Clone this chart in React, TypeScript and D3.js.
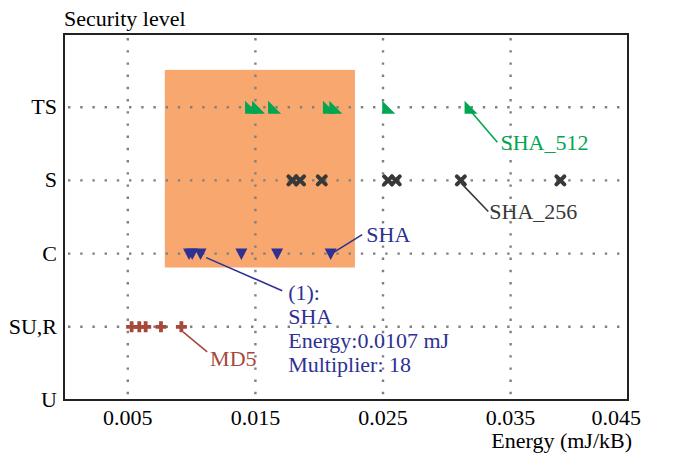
import { scaleLinear } from "d3";

const width = 676;
const height = 458;

// security levels, bottom to top
const levels = ["U", "SU,R", "C", "S", "TS"];
const xTicks = [0.005, 0.015, 0.025, 0.035];
const xTickLabels = ["0.005", "0.015", "0.025", "0.035", "0.045"];

// energy values (mJ/kB) per algorithm
const sha512 = [0.0147, 0.01525, 0.0165, 0.0208, 0.0213, 0.02545, 0.0319];
const sha256 = [0.0179, 0.0185, 0.0202, 0.0254, 0.026, 0.0311, 0.0389];
const sha = [0.0098, 0.01005, 0.0107, 0.0139, 0.0167, 0.0209];
const md5 = [0.0053, 0.0059, 0.0064, 0.0076, 0.0092];

// highlighted region [x0, x1], [y0, y1]
const boxX = [0.0079, 0.0228];
const boxY = [1.81, 4.51];

const green = "#00a651";
const dark = "#383838";
const blue = "#2e3192";
const brown = "#a5493b";

// annotation: from point, line end, text position (data space)
const annotations = [
  { from: [0.032, 3.92], to: [0.03396, 3.52], text: [0.0342, 3.41], lines: ["SHA_512"], color: green },
  { from: [0.03114, 2.96], to: [0.03325, 2.575], text: [0.03333, 2.466], lines: ["SHA_256"], color: dark },
  { from: [0.0211, 2.014], to: [0.02337, 2.26], text: [0.02369, 2.164], lines: ["SHA"], color: blue },
  {
    from: [0.01114, 1.945],
    to: [0.0171, 1.493],
    text: [0.01757, 1.37],
    lines: ["(1):", "SHA", "Energy:0.0107 mJ", "Multiplier: 18"],
    color: blue,
  },
  { from: [0.00933, 0.93], to: [0.01122, 0.658], text: [0.01145, 0.466], lines: ["MD5"], color: brown },
];

const left = 64;
const right = 628;
const top = 34;
const bottom = 400;

const App = () => {
  const x = scaleLinear().domain([0, 0.0442]).range([left, right]);
  const y = scaleLinear().domain([0, 5]).range([bottom, top]);
  const font = "'Liberation Serif', 'Times New Roman', serif";

  return (
    <svg
      width={width}
      height={height}
      style={{ position: "absolute", left: 0, top: 0 }}
      fontFamily={font}
    >
      <rect width={width} height={height} fill="#fff" />
      <rect
        x={x(boxX[0])}
        y={y(boxY[1])}
        width={x(boxX[1]) - x(boxX[0])}
        height={y(boxY[0]) - y(boxY[1])}
        fill="#f8a86f"
      />
      {/* dotted grid */}
      {xTicks.map((t) => (
        <line
          key={"gx" + t}
          x1={x(t)}
          x2={x(t)}
          y1={top + 4}
          y2={bottom}
          stroke="#808080"
          strokeWidth={2.4}
          strokeDasharray="2.4 9.8"
        />
      ))}
      {levels.slice(1).map((l, i) => (
        <line
          key={"gy" + l}
          x1={left + 4}
          x2={right}
          y1={y(i + 1)}
          y2={y(i + 1)}
          stroke="#808080"
          strokeWidth={2.4}
          strokeDasharray="2.4 9.8"
        />
      ))}
      <rect
        x={left}
        y={top}
        width={right - left}
        height={bottom - top}
        fill="none"
        stroke="#222"
        strokeWidth={2}
      />
      {/* y labels */}
      {levels.map((l, i) => (
        <text key={l} x={left - 7} y={y(i) + 7} textAnchor="end" fontSize={22}>
          {l}
        </text>
      ))}
      {xTickLabels.map((l, i) => (
        <text
          key={l}
          x={i < xTicks.length ? x(xTicks[i]) : right + 13}
          y={425}
          textAnchor={i < xTicks.length ? "middle" : "end"}
          fontSize={22}
        >
          {l}
        </text>
      ))}
      <text x={left} y={26} fontSize={22}>
        Security level
      </text>
      <text x={right + 4} y={448} fontSize={22} textAnchor="end">
        Energy (mJ/kB)
      </text>

      {/* annotation lines */}
      {annotations.map((a, i) => (
        <line
          key={"al" + i}
          x1={x(a.from[0])}
          y1={y(a.from[1])}
          x2={x(a.to[0])}
          y2={y(a.to[1])}
          stroke={a.color}
          strokeWidth={1.6}
        />
      ))}

      {/* markers */}
      {md5.map((v, i) => (
        <path
          key={"md" + i}
          transform={`translate(${x(v)},${y(1)})`}
          d="M-5.5,0H5.5M0,-5.5V5.5"
          stroke={brown}
          strokeWidth={3.8}
        />
      ))}
      {sha.map((v, i) => (
        <path key={"sh" + i} transform={`translate(${x(v)},${y(2)})`} d="M-6,-5L6,-5L0,6.5Z" fill={blue} />
      ))}
      {sha256.map((v, i) => (
        <path
          key={"s2" + i}
          transform={`translate(${x(v)},${y(3)})`}
          d="M-4,-4L4,4M4,-4L-4,4"
          stroke={dark}
          strokeWidth={4}
          strokeLinecap="round"
        />
      ))}
      {sha512.map((v, i) => (
        <path
          key={"s5" + i}
          transform={`translate(${x(v)},${y(4)})`}
          d="M-6.5,-6.5L6.5,6.5L-6.5,6.5Z"
          fill={green}
        />
      ))}

      {/* annotation text */}
      {annotations.map((a, i) => (
        <text key={"at" + i} x={x(a.text[0])} y={y(a.text[1])} fill={a.color} fontSize={22}>
          {a.lines.map((s, j) => (
            <tspan key={j} x={x(a.text[0])} dy={j === 0 ? 0 : 24}>
              {s}
            </tspan>
          ))}
        </text>
      ))}
    </svg>
  );
};

export default App;
